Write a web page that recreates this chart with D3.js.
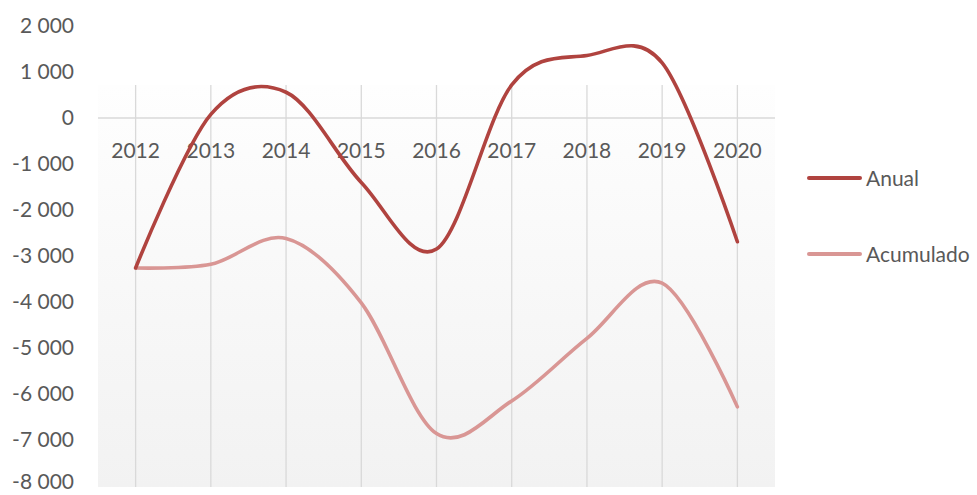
<!DOCTYPE html>
<html><head><meta charset="utf-8">
<script src="https://cdn.jsdelivr.net/npm/d3@7"></script>
<style>body{margin:0;background:#fff}svg{display:block}text{font-family:Lato,"Open Sans",sans-serif;fill:#595959}</style>
</head><body>
<script>
const years = ["2012","2013","2014","2015","2016","2017","2018","2019","2020"];
const anual = [-3260, 80, 560, -1400, -2850, 720, 1360, 1200, -2690];
const acumulado = [-3260, -3180, -2620, -4020, -6860, -6150, -4790, -3590, -6280];
const yTicks = [2000, 1000, 0, -1000, -2000, -3000, -4000, -5000, -6000, -7000, -8000];
const seriesNames = ["Anual", "Acumulado"];
const seriesColors = ["#b0433f", "#d99694"];

const W = 977, H = 495;
const svg = d3.select("body").append("svg").attr("width", W).attr("height", H);
const x = d3.scaleBand().domain(years).range([98, 775]).padding(0);
const y = d3.scaleLinear().domain([-8000, 2000]).range([486, 26]);
const cx = d => x(d) + x.bandwidth() / 2;

const defs = svg.append("defs");
const g = defs.append("linearGradient").attr("id", "bg").attr("x1", 0).attr("y1", 0).attr("x2", 0).attr("y2", 1);
g.append("stop").attr("offset", "0%").attr("stop-color", "#fefefe");
g.append("stop").attr("offset", "100%").attr("stop-color", "#f2f2f2");
svg.append("rect").attr("x", 98).attr("y", 85).attr("width", 677).attr("height", 402).attr("fill", "url(#bg)");

// vertical gridlines
svg.append("g").selectAll("line").data(years).join("line")
  .attr("x1", d => cx(d)).attr("x2", d => cx(d)).attr("y1", 85).attr("y2", 487)
  .attr("stroke", "#d9d9d9").attr("stroke-width", 1.3);
// zero line
svg.append("line").attr("x1", 98).attr("x2", 775).attr("y1", y(0)).attr("y2", y(0))
  .attr("stroke", "#d9d9d9").attr("stroke-width", 1.5);

// y tick labels
svg.append("g").selectAll("text").data(yTicks).join("text")
  .attr("x", 74).attr("y", d => Math.min(y(d) + 7, 489)).attr("text-anchor", "end")
  .attr("font-size", 21).text(d => d3.format(",")(d).replace(/,/g, " ").replace("−", "-"));

// x labels
svg.append("g").selectAll("text").data(years).join("text")
  .attr("x", d => cx(d)).attr("y", 158).attr("text-anchor", "middle")
  .attr("font-size", 21).text(d => d);

const line = d3.line().x((d, i) => cx(years[i])).y(d => y(d)).curve(d3.curveCardinal.tension(0));
[acumulado, anual].forEach((s, k) => {
  const idx = k === 0 ? 1 : 0;
  svg.append("path").attr("d", line(s)).attr("fill", "none")
    .attr("stroke", seriesColors[idx]).attr("stroke-width", 3.6)
    .attr("stroke-linecap", "round").attr("stroke-linejoin", "round");
});

// legend
const ly = [178, 254];
seriesNames.forEach((n, i) => {
  svg.append("line").attr("x1", 809).attr("x2", 860).attr("y1", ly[i]).attr("y2", ly[i])
    .attr("stroke", seriesColors[i]).attr("stroke-width", 4).attr("stroke-linecap", "round");
  svg.append("text").attr("x", 866).attr("y", ly[i]).attr("dy", "0.36em")
    .attr("font-size", 21).text(n);
});
</script>
</body></html>
